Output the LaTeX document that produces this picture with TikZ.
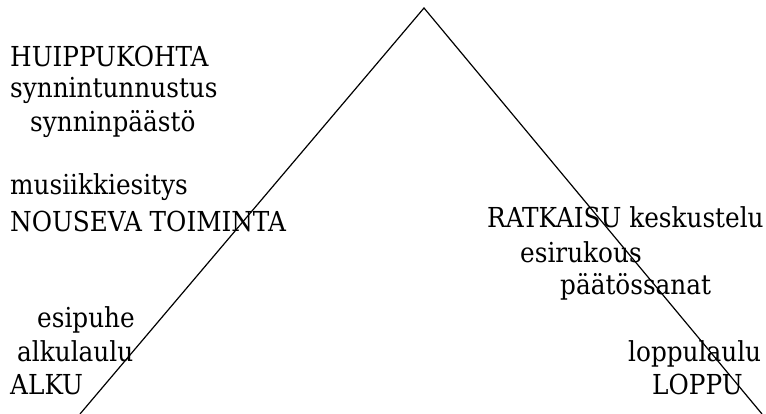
\documentclass[tikz,border=0pt]{standalone}
\usepackage{fontspec}
\setmainfont{DejaVu Serif Condensed}
\begin{document}
\begin{tikzpicture}[x=1pt,y=1pt,
  lbl/.style={anchor=base west,inner sep=0pt,font=\fontsize{27.5}{30}\selectfont},
  edge/.style={draw=black,line width=1.2pt}]
\useasboundingbox (0,0) rectangle (766,414);
\coordinate (apex) at (424,406);
\coordinate (bl) at (80,0);
\coordinate (br) at (762,0);
\draw[edge] (bl) -- (apex) -- (br);
\node[lbl] (huippu) at (10,347) {HUIPPUKOHTA};
\node[lbl] (synt) at (10,316) {synnintunnustus};
\node[lbl] (synp) at (30,282) {synninpäästö};
\node[lbl] (musi) at (10,219) {musiikkiesitys};
\node[lbl] (nous) at (10,182) {NOUSEVA TOIMINTA};
\node[lbl] (ratk) at (487,186) {RATKAISU keskustelu};
\node[lbl] (esir) at (520,151) {esirukous};
\node[lbl] (paat) at (560,119) {päätössanat};
\node[lbl] (esip) at (37,86) {esipuhe};
\node[lbl] (alku1) at (17,52) {alkulaulu};
\node[lbl] (alku) at (10,19) {ALKU};
\node[lbl] (lopl) at (628,52) {loppulaulu};
\node[lbl] (lopp) at (652,19) {LOPPU};
\end{tikzpicture}
\end{document}
